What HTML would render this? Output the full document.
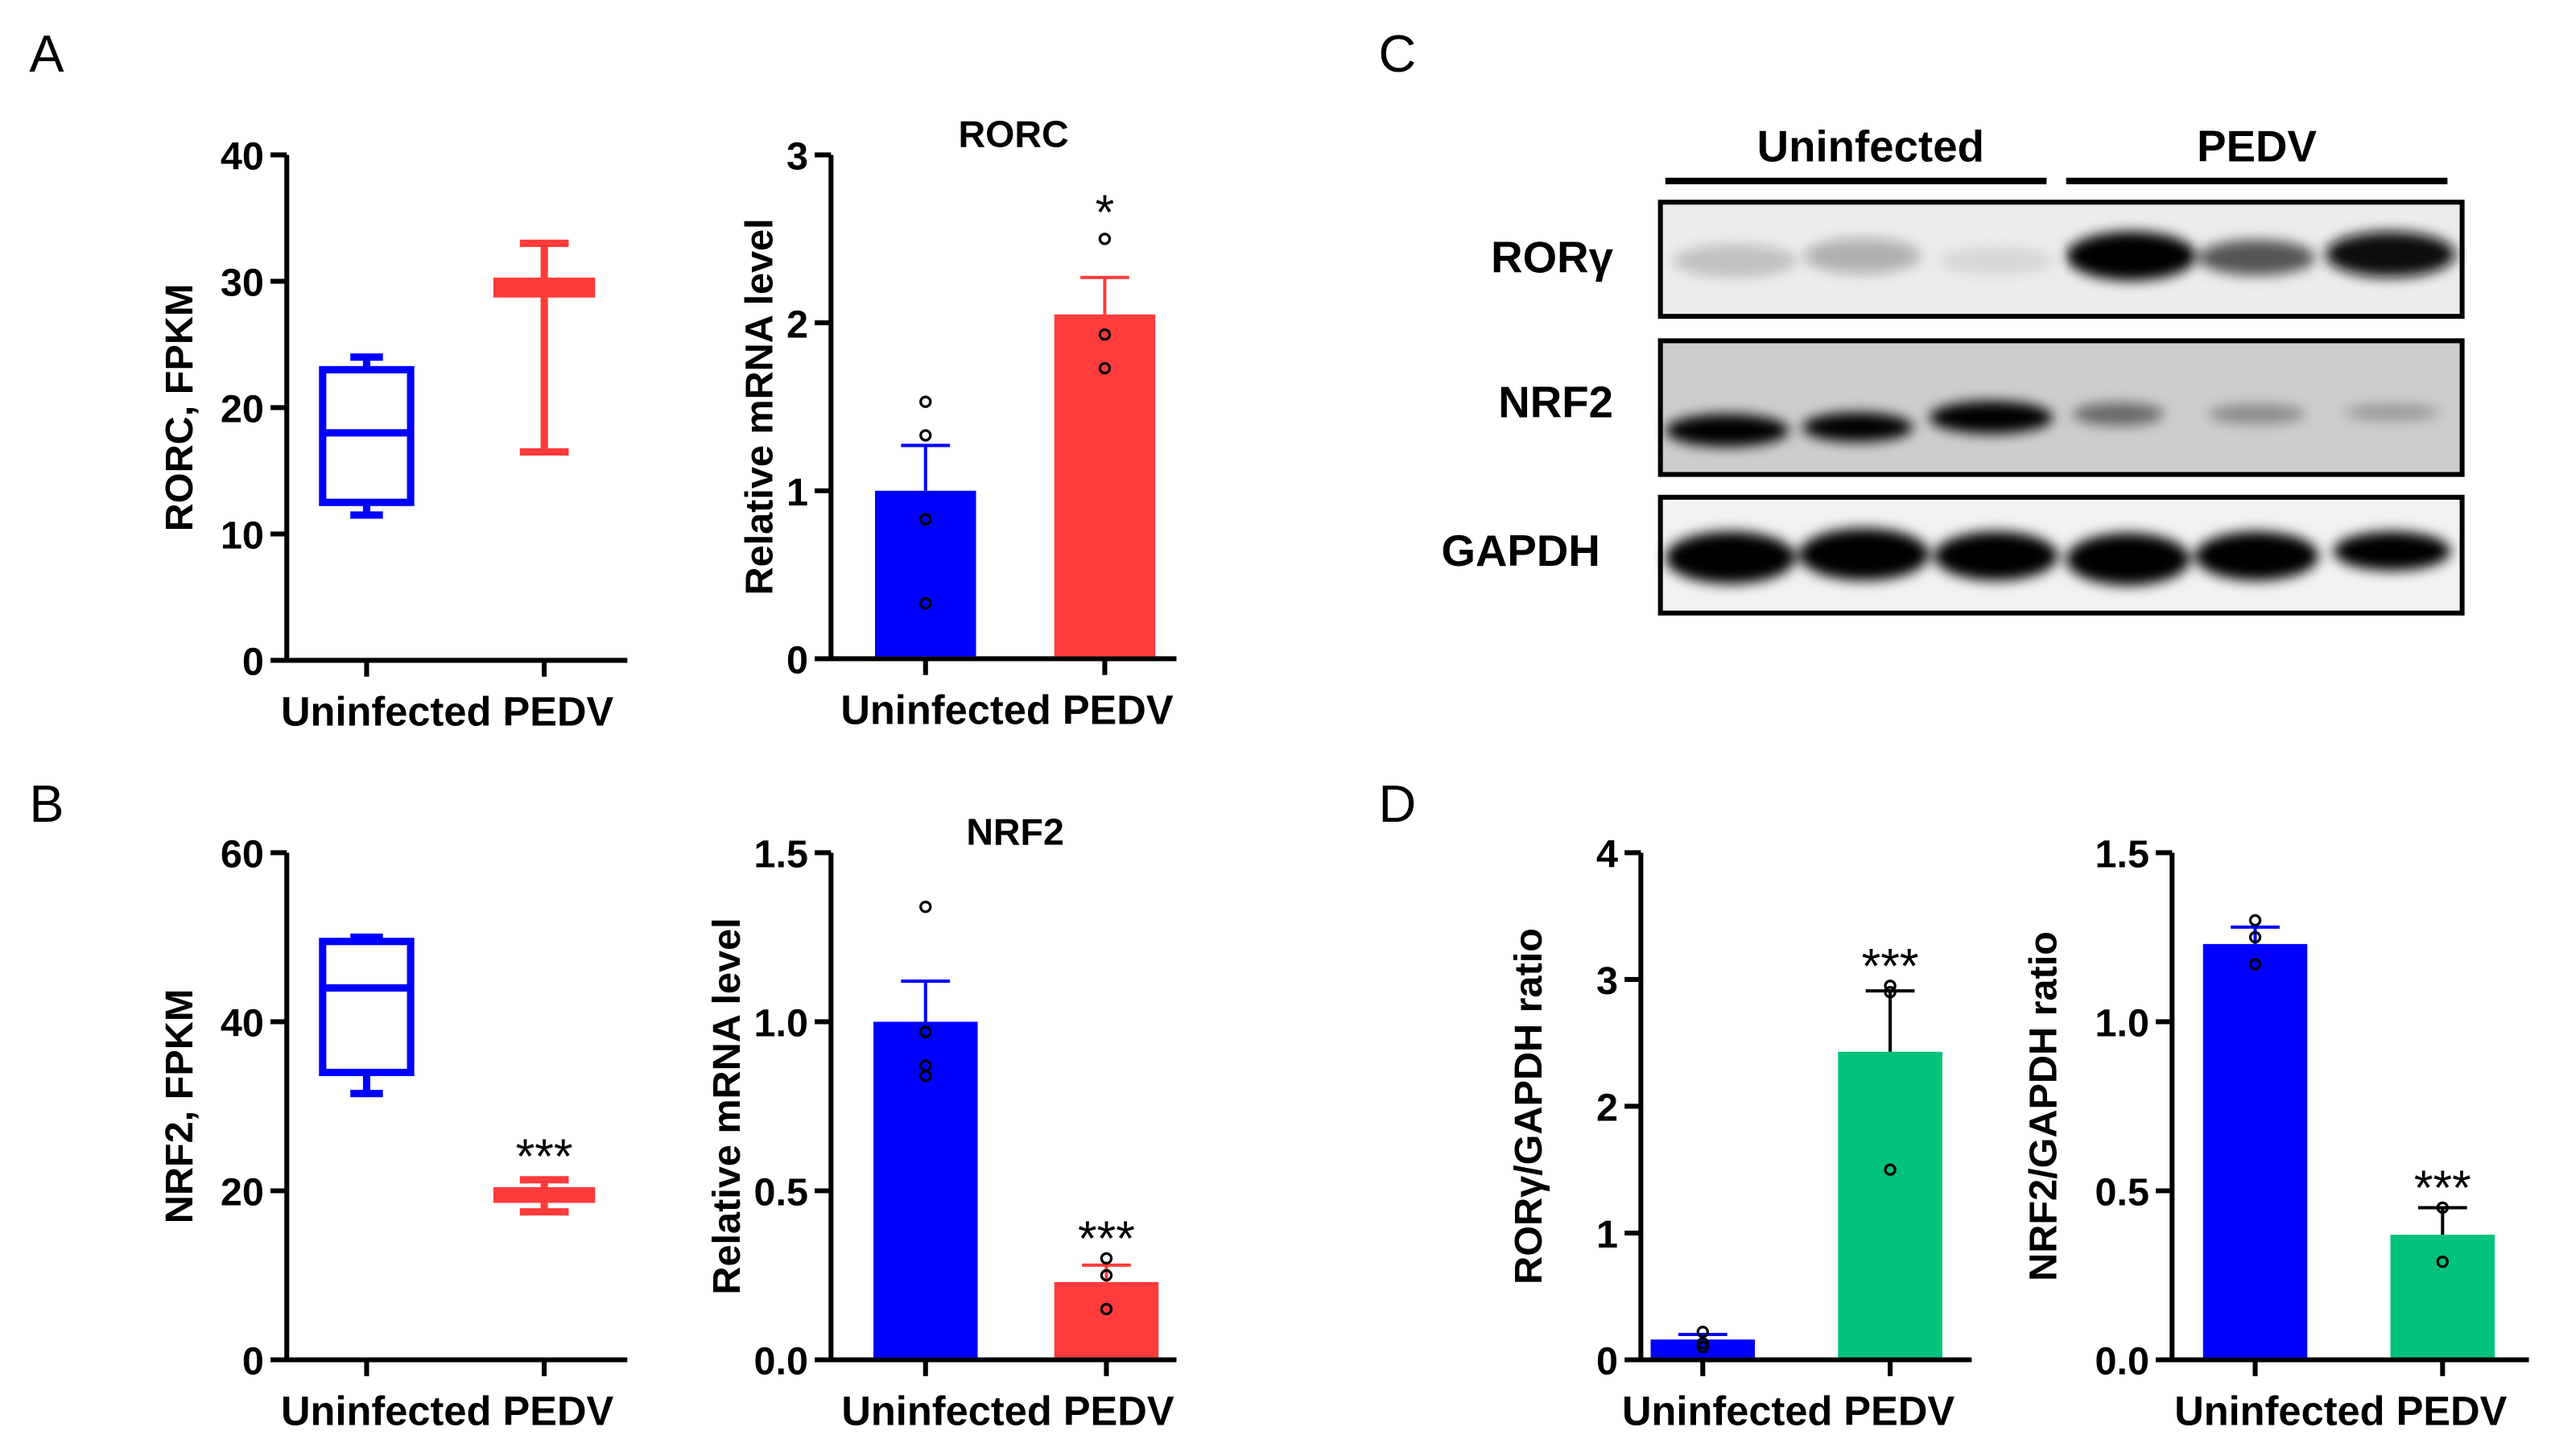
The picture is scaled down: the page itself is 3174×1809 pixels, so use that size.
<!DOCTYPE html>
<html><head><meta charset="utf-8">
<style>
html,body{margin:0;padding:0;background:#fff;}
svg{display:block;}
text{font-family:"Liberation Sans",Arial,sans-serif;}
</style></head>
<body>
<svg id="fig" width="3174" height="1809" viewBox="0 0 1568 893" preserveAspectRatio="none" xmlns="http://www.w3.org/2000/svg">
<defs>
<filter id="blur" x="-20%" y="-50%" width="140%" height="200%"><feGaussianBlur stdDeviation="4"/></filter>
</defs>
<g id="labels" font-size="32" fill="#000">
<text x="18" y="44">A</text>
<text x="18" y="504">B</text>
<text x="846" y="44">C</text>
<text x="846" y="504">D</text>
</g>
<g id="charts"></g>
<g id="blot">
<text x="1148" y="99" font-size="27" font-weight="bold" text-anchor="middle">Uninfected</text>
<text x="1385" y="99" font-size="27" font-weight="bold" text-anchor="middle">PEDV</text>
<rect x="1022" y="109" width="234" height="4" fill="#000"/>
<rect x="1268" y="109" width="234" height="4" fill="#000"/>
<text x="990" y="167" font-size="27" font-weight="bold" text-anchor="end">RORγ</text>
<text x="990" y="256" font-size="27" font-weight="bold" text-anchor="end">NRF2</text>
<text x="982" y="347" font-size="27" font-weight="bold" text-anchor="end">GAPDH</text>
<g>
<rect x="1019" y="124" width="492" height="70" fill="#ececec"/>
<g filter="url(#blur)">
<ellipse cx="1065" cy="160" rx="38" ry="10" fill="#c0c0c0"/>
<ellipse cx="1143" cy="157" rx="36" ry="11" fill="#b0b0b0"/>
<ellipse cx="1225" cy="160" rx="36" ry="9" fill="#d8d8d8"/>
<ellipse cx="1308" cy="157" rx="40" ry="15" fill="#000"/>
<ellipse cx="1385" cy="158" rx="36" ry="11" fill="#555"/>
<ellipse cx="1467" cy="156" rx="40" ry="14" fill="#111"/>
</g>
<rect x="1019" y="124" width="492" height="70" fill="none" stroke="#000" stroke-width="3"/>
</g>
<g>
<rect x="1019" y="209" width="492" height="82" fill="#cdcdcd"/>
<g filter="url(#blur)">
<ellipse cx="1060" cy="264" rx="38" ry="10" fill="#000"/>
<ellipse cx="1140" cy="262" rx="34" ry="9" fill="#000"/>
<ellipse cx="1222" cy="256" rx="38" ry="10" fill="#000"/>
<ellipse cx="1300" cy="254" rx="28" ry="7" fill="#666"/>
<ellipse cx="1385" cy="254" rx="30" ry="6" fill="#888"/>
<ellipse cx="1468" cy="253" rx="30" ry="5" fill="#999"/>
</g>
<rect x="1019" y="209" width="492" height="82" fill="none" stroke="#000" stroke-width="3"/>
</g>
<g>
<rect x="1019" y="305" width="492" height="71" fill="#f2f2f2"/>
<g filter="url(#blur)">
<ellipse cx="1062" cy="342" rx="40" ry="16" fill="#000"/>
<ellipse cx="1144" cy="340" rx="40" ry="16" fill="#000"/>
<ellipse cx="1225" cy="341" rx="38" ry="15" fill="#000"/>
<ellipse cx="1306" cy="343" rx="38" ry="16" fill="#000"/>
<ellipse cx="1385" cy="341" rx="38" ry="15" fill="#000"/>
<ellipse cx="1468" cy="338" rx="36" ry="12" fill="#000"/>
</g>
<rect x="1019" y="305" width="492" height="71" fill="none" stroke="#000" stroke-width="3"/>
</g>
</g>
</svg>
<script>
// ---- data ----
const groups = ["Uninfected", "PEDV"];
// A1 box plot RORC FPKM: [min, q1, median, q3, max]
const rorcFpkmUninf = [11.5, 12.5, 18, 23, 24];
const rorcFpkmPedv = [16.5, 29, 29.5, 30, 33];
const rorcFpkmTicks = [0, 10, 20, 30, 40];
// B1 box plot NRF2 FPKM
const nrf2FpkmUninf = [31.5, 34, 44, 49.5, 50];
const nrf2FpkmPedv = [17.5, 19, 19.5, 20, 21.3];
const nrf2FpkmTicks = [0, 20, 40, 60];
// A2 RORC mRNA
const rorcMean = [1.0, 2.05];
const rorcSem = [0.27, 0.22];
const rorcPtsUninf = [1.53, 1.33, 0.83, 0.33];
const rorcPtsPedv = [2.5, 1.93, 1.73];
const rorcTicks = [0, 1, 2, 3];
// B2 NRF2 mRNA
const nrf2Mean = [1.0, 0.23];
const nrf2Sem = [0.12, 0.05];
const nrf2PtsUninf = [1.34, 0.97, 0.87, 0.84];
const nrf2PtsPedv = [0.30, 0.25, 0.15];
const nrf2Ticks = [0, 0.5, 1.0, 1.5];
// D1 RORg/GAPDH
const rorgRatioMean = [0.16, 2.43];
const rorgRatioSem = [0.04, 0.48];
const rorgPtsUninf = [0.22, 0.13, 0.1];
const rorgPtsPedv = [2.95, 2.9, 1.5];
const rorgTicks = [0, 1, 2, 3, 4];
// D2 NRF2/GAPDH
const nrf2RatioMean = [1.23, 0.37];
const nrf2RatioSem = [0.05, 0.08];
const nrf2RPtsUninf = [1.3, 1.25, 1.17];
const nrf2RPtsPedv = [0.45, 0.29];
const nrf2RatioTicks = [0, 0.5, 1.0, 1.5];

const NS = "http://www.w3.org/2000/svg";
const root = document.getElementById("charts");
function mk(tag, attrs, parent) {
  const e = document.createElementNS(NS, tag);
  for (const k in attrs) e.setAttribute(k, attrs[k]);
  (parent || root).appendChild(e);
  return e;
}
function fmt(v, dec) { return dec ? v.toFixed(1) : String(v); }

function axes(g, c, ticks, dec, name) {
  const y = v => c.y0 - (v - 0) / c.max * (c.y0 - c.y1);
  const ya = mk("line", {x1: c.ax, y1: c.y1, x2: c.ax, y2: c.y0 + 1.5, stroke: "#000", "stroke-width": 3}, g);
  
  
  const xa = mk("line", {x1: c.ax - 1.5, y1: c.y0, x2: c.xend, y2: c.y0, stroke: "#000", "stroke-width": 3}, g);
  
  
  ticks.forEach(t => {
    const tl = mk("line", {x1: c.ax - 10, y1: y(t), x2: c.ax, y2: y(t), stroke: "#000", "stroke-width": 3}, g);
    
    
    const tt = mk("text", {x: c.ax - 14, y: y(t) + 9, "font-size": 24, "font-weight": "bold", "text-anchor": "end"}, g);
    tt.textContent = fmt(t, dec);
    
    
  });
  c.xs.forEach(x => {
    const tl = mk("line", {x1: x, y1: c.y0, x2: x, y2: c.y0 + 10, stroke: "#000", "stroke-width": 3}, g);
    
    
  });
  const xl = mk("text", {x: (c.xs[0] + c.xs[1]) / 2 - 5, y: c.y0 + 40, "font-size": 25, "font-weight": "bold", "text-anchor": "middle"}, g);
  xl.textContent = groups[0] + " " + groups[1];
  
  
  const yt = mk("text", {x: 0, y: 0, "font-size": 24, "font-weight": "bold", "text-anchor": "middle", transform: `translate(${c.tx},${(c.y0 + c.y1) / 2}) rotate(-90)`}, g);
  yt.textContent = c.ytitle;
  
  
  if (c.title) {
    const tt = mk("text", {x: c.titleX, y: c.y1 - 5, "font-size": 23, "font-weight": "bold", "text-anchor": "middle"}, g);
    tt.textContent = c.title;
    
    
  }
  return y;
}

function boxChart(c, ticks, dU, dP, name, star) {
  const g = mk("g", {});
  
  
  const y = axes(g, c, ticks, false, name);
  [[dU, "#0000ff", c.xs[0], 27, 10], [dP, "#ff3b3b", c.xs[1], 29, 15]].forEach(([d, col, cx, hw, cw], i) => {
    const bg = mk("g", {stroke: col, "stroke-width": 4.5, fill: "none"}, g);
    
    
    mk("line", {x1: cx, y1: y(d[0]), x2: cx, y2: y(d[4])}, bg);
    mk("line", {x1: cx - cw, y1: y(d[0]), x2: cx + cw, y2: y(d[0])}, bg);
    mk("line", {x1: cx - cw, y1: y(d[4]), x2: cx + cw, y2: y(d[4])}, bg);
    mk("rect", {x: cx - hw, y: y(d[3]), width: 2 * hw, height: Math.max(0.1, y(d[1]) - y(d[3])), fill: "#fff"}, bg);
    mk("line", {x1: cx - hw, y1: y(d[2]), x2: cx + hw, y2: y(d[2])}, bg);
  });
  if (star) {
    const s = mk("text", {x: c.xs[1], y: y(dP[4]) - 4, "font-size": 30, "text-anchor": "middle"}, g);
    s.textContent = star;
    
    
  }
}

function barChart(c, ticks, dec, mean, sem, pU, pP, colors, name, star) {
  const g = mk("g", {});
  
  
  const y = axes(g, c, ticks, dec, name);
  [pU, pP].forEach((pts, i) => {
    const cx = c.xs[i], hw = c.bw / 2;
    const top = y(mean[i] + sem[i]);
    const el = mk("line", {x1: cx, y1: top, x2: cx, y2: y(mean[i]), stroke: colors[i] === "#00c27a" ? "#000" : colors[i], "stroke-width": 2}, g);
    
    
    const ec = mk("line", {x1: cx - 15, y1: top, x2: cx + 15, y2: top, stroke: colors[i] === "#00c27a" ? "#000" : colors[i], "stroke-width": 2}, g);
    
    
    const b = mk("rect", {x: cx - hw, y: y(mean[i]), width: c.bw, height: c.y0 - 1.5 - y(mean[i]), fill: colors[i]}, g);
    
    
    pts.forEach(v => {
      const p = mk("circle", {cx: cx, cy: y(v), r: 3, fill: "none", stroke: "#000", "stroke-width": 1.6}, g);
      
      
    });
  });
  if (star) {
    const top = Math.max(mean[1] + sem[1], ...pP);
    const s = mk("text", {x: c.xs[1], y: y(top) - (star.length > 1 ? 2 : 6), "font-size": 30, "text-anchor": "middle"}, g);
    s.textContent = star;
    
    
  }
}

boxChart({ax: 176, y0: 405, y1: 95, max: 40, xend: 385, xs: [225, 334], tx: 118, ytitle: "RORC, FPKM"}, rorcFpkmTicks, rorcFpkmUninf, rorcFpkmPedv, "rorc-fpkm-chart", null);
boxChart({ax: 176, y0: 834, y1: 523, max: 60, xend: 385, xs: [225, 334], tx: 118, ytitle: "NRF2, FPKM"}, nrf2FpkmTicks, nrf2FpkmUninf, nrf2FpkmPedv, "nrf2-fpkm-chart", "***");
barChart({ax: 510, y0: 404, y1: 95, max: 3, xend: 722, xs: [568, 678], bw: 62, tx: 474, ytitle: "Relative mRNA level", title: "RORC", titleX: 622}, rorcTicks, false, rorcMean, rorcSem, rorcPtsUninf, rorcPtsPedv, ["#0000ff", "#ff3b3b"], "rorc-mrna-chart", "*");
barChart({ax: 510, y0: 834, y1: 523, max: 1.5, xend: 722, xs: [568, 679], bw: 64, tx: 454, ytitle: "Relative mRNA level", title: "NRF2", titleX: 623}, nrf2Ticks, true, nrf2Mean, nrf2Sem, nrf2PtsUninf, nrf2PtsPedv, ["#0000ff", "#ff3b3b"], "nrf2-mrna-chart", "***");
barChart({ax: 1007, y0: 834, y1: 523, max: 4, xend: 1210, xs: [1045, 1160], bw: 64, tx: 946, ytitle: "RORγ/GAPDH ratio"}, rorgTicks, false, rorgRatioMean, rorgRatioSem, rorgPtsUninf, rorgPtsPedv, ["#0000ff", "#00c27a"], "rorg-ratio-chart", "***");
barChart({ax: 1333, y0: 834, y1: 523, max: 1.5, xend: 1552, xs: [1384, 1499], bw: 64, tx: 1262, ytitle: "NRF2/GAPDH ratio"}, nrf2RatioTicks, true, nrf2RatioMean, nrf2RatioSem, nrf2RPtsUninf, nrf2RPtsPedv, ["#0000ff", "#00c27a"], "nrf2-ratio-chart", "***");
</script>
</body></html>
